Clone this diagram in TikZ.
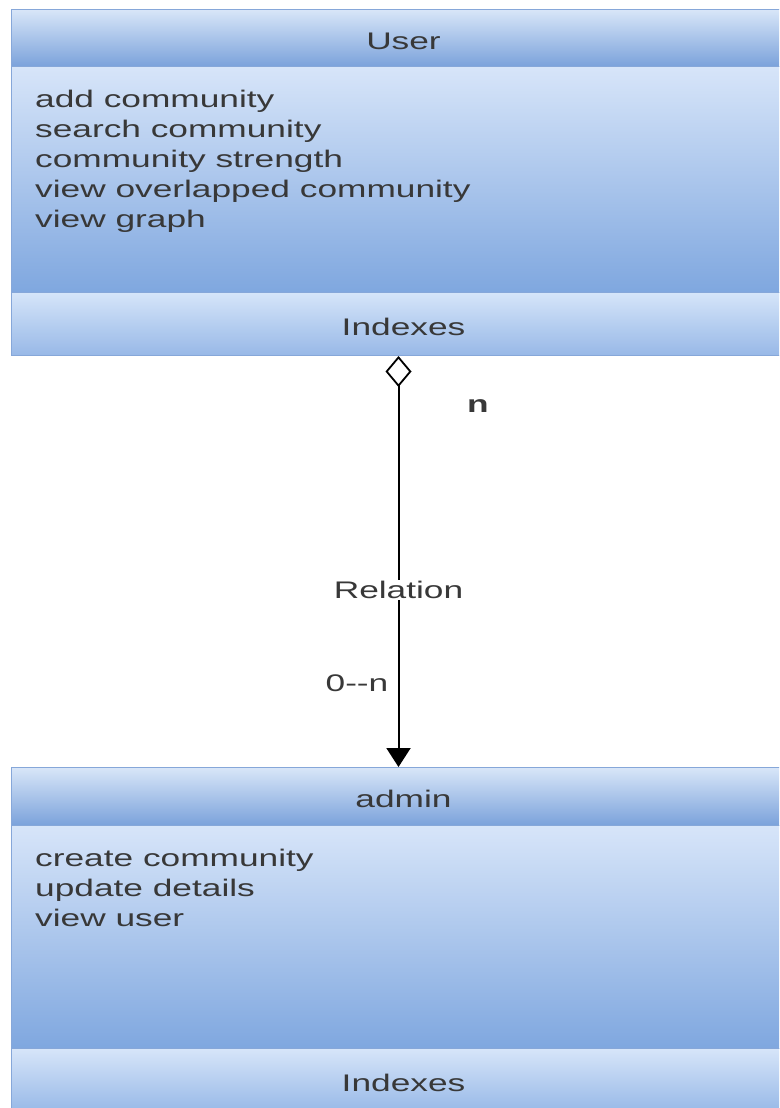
\documentclass[tikz,border=0pt]{standalone}
\usepackage{fontspec}
\setmainfont{Liberation Sans}[FakeStretch=1.47]
\usetikzlibrary{arrows.meta}
\definecolor{txt}{HTML}{383838}
\definecolor{edge}{HTML}{86A7D9}
\definecolor{hTop}{HTML}{D8E6F8}
\definecolor{hBot}{HTML}{7BA2DB}
\definecolor{bTop}{HTML}{D7E5F9}
\definecolor{bBot}{HTML}{7FA7DF}
\definecolor{iTop}{HTML}{D6E5F9}
\definecolor{iBot}{HTML}{97B8E7}
\tikzset{
  part/.style={draw=edge, line width=1pt, anchor=north west, inner sep=0pt,
    minimum width=784pt, font=\fontsize{24}{30}\selectfont, text=txt,
    text height=22pt, text depth=0pt},
  headpart/.style={part, top color=hTop, bottom color=hBot},
  bodypart/.style={part, top color=bTop, bottom color=bBot},
  idxpart/.style={part, top color=iTop, bottom color=iBot},
  ops/.style={anchor=north west, inner sep=0pt, align=left,
    font=\fontsize{24}{30}\selectfont, text=txt},
  lbl/.style={inner sep=1pt, font=\fontsize{24}{30}\selectfont, text=txt},
}
\begin{document}
\begin{tikzpicture}[x=1pt,y=-1pt]
\useasboundingbox (0,0) rectangle (779,1108);
\clip (0,0) rectangle (779,1108);

% class User
\node[headpart, minimum height=57pt] (uhead) at (11,9) {User};
\node[bodypart, minimum height=226pt] (ubody) at (11,66) {};
\node[idxpart, minimum height=63pt] (uidx) at (11,292) {Indexes};
\node[ops] (uops) at (35,90) {add community\\search community\\community strength\\view overlapped community\\view graph};

% class admin
\node[headpart, minimum height=58pt] (ahead) at (11,767) {admin};
\node[bodypart, minimum height=223pt] (abody) at (11,825) {};
\node[idxpart, minimum height=64pt] (aidx) at (11,1048) {Indexes};
\node[ops] (aops) at (35,849) {create community\\update details\\view user};

% aggregation between the classes
\draw[line width=2pt,
  {Diamond[length=31pt,width=26pt,line width=1.8pt,fill=white]}-{Triangle[length=19pt,width=24pt]}]
  ([xshift=-5pt]uidx.south) -- node[lbl, fill=white, pos=0.57] (rel) {Relation} ([xshift=-5pt]ahead.north);

\node[lbl, font=\fontsize{24}{30}\selectfont\bfseries] (mult1) at (478,406) {n};
\node[lbl, fill=white] (mult2) at (357,683) {0{-}{-}n};
\end{tikzpicture}
\end{document}
